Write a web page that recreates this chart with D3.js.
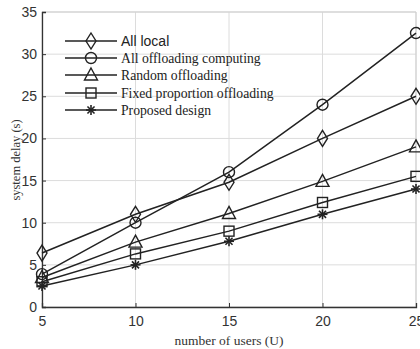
<!DOCTYPE html>
<html><head><meta charset="utf-8">
<script src="https://cdn.jsdelivr.net/npm/d3@7"></script>
<style>body{margin:0;background:#fff}svg{display:block}</style>
</head><body>
<svg id="c" width="420" height="349"></svg>
<script>
const users = [5, 10, 15, 20, 25];
const xTicks = [5, 10, 15, 20, 25];
const yTicks = [0, 5, 10, 15, 20, 25, 30, 35];
const seriesNames = ["All local", "All offloading computing", "Random offloading", "Fixed proportion offloading", "Proposed design"];
const allLocal = [6.4, 11.0, 14.8, 20.0, 25.0];
const allOffloading = [3.9, 10.0, 16.0, 24.0, 32.5];
const randomOffloading = [3.5, 7.7, 11.1, 14.9, 19.0];
const fixedProportion = [3.0, 6.3, 9.0, 12.4, 15.5];
const proposedDesign = [2.5, 5.0, 7.8, 11.0, 14.0];
const seriesValues = [allLocal, allOffloading, randomOffloading, fixedProportion, proposedDesign];
const markers = ["diamond", "circle", "triangle", "square", "star"];

const svg = d3.select("#c");
const L = 42, R = 416, T = 12, B = 307;
const x = d3.scaleLinear().domain([5, 25]).range([L, R]);
const y = d3.scaleLinear().domain([0, 35]).range([B, T]);

// grid
const g = svg.append("g");
g.selectAll(".gx").data(xTicks).enter().append("line")
  .attr("x1", d => x(d)).attr("x2", d => x(d)).attr("y1", T).attr("y2", B)
  .attr("stroke", "#dcdcdc").attr("stroke-width", 1);
g.selectAll(".gy").data(yTicks).enter().append("line")
  .attr("x1", L).attr("x2", R).attr("y1", d => y(d)).attr("y2", d => y(d))
  .attr("stroke", "#dcdcdc").attr("stroke-width", 1);
// box top/right
svg.append("path").attr("d", `M${L},${T}H${R}V${B}`).attr("fill", "none").attr("stroke", "#cfcfcf");

// axes
const xAxis = d3.axisBottom(x).tickValues(xTicks).tickSize(-4).tickPadding(9).tickFormat(d3.format("d"));
const yAxis = d3.axisLeft(y).tickValues(yTicks).tickSize(-4).tickPadding(5).tickFormat(d3.format("d"));
const ax = svg.append("g").attr("transform", `translate(0,${B})`).call(xAxis);
const ay = svg.append("g").attr("transform", `translate(${L},0)`).call(yAxis);
[ax, ay].forEach(a => {
  a.select(".domain").attr("stroke", "#333").attr("stroke-width", 1.3);
  a.selectAll(".tick line").attr("stroke", "#333");
  a.selectAll(".tick text").attr("font-family", "Liberation Sans, Arial, sans-serif").attr("font-size", 14).attr("fill", "#333");
});

// axis labels
svg.append("text").attr("x", 229).attr("y", 345).attr("text-anchor", "middle")
  .attr("font-family", "Liberation Serif, Times New Roman, serif").attr("font-size", 13.5).attr("fill", "#333")
  .text("number of users (U)");
svg.append("text").attr("transform", "translate(20,160) rotate(-90)").attr("text-anchor", "middle")
  .attr("font-family", "Liberation Serif, Times New Roman, serif").attr("font-size", 12.5).attr("fill", "#333")
  .text("system delay (s)");

function drawMarker(sel, type, cx, cy) {
  const s = "#222";
  if (type === "diamond") {
    sel.append("path").attr("d", `M${cx},${cy-8}L${cx+5},${cy}L${cx},${cy+8}L${cx-5},${cy}Z`).attr("fill", "none").attr("stroke", s).attr("stroke-width", 1.4);
  } else if (type === "circle") {
    sel.append("circle").attr("cx", cx).attr("cy", cy).attr("r", 5.5).attr("fill", "none").attr("stroke", s).attr("stroke-width", 1.4);
  } else if (type === "triangle") {
    sel.append("path").attr("d", `M${cx},${cy-7}L${cx+6.5},${cy+5}L${cx-6.5},${cy+5}Z`).attr("fill", "none").attr("stroke", s).attr("stroke-width", 1.4);
  } else if (type === "square") {
    sel.append("rect").attr("x", cx-5).attr("y", cy-5).attr("width", 10).attr("height", 10).attr("fill", "none").attr("stroke", s).attr("stroke-width", 1.4);
  } else if (type === "star") {
    for (let a = 0; a < 4; a++) {
      const ang = a * Math.PI / 4;
      sel.append("line").attr("x1", cx - 5*Math.cos(ang)).attr("y1", cy - 5*Math.sin(ang))
        .attr("x2", cx + 5*Math.cos(ang)).attr("y2", cy + 5*Math.sin(ang)).attr("stroke", s).attr("stroke-width", 1.6);
    }
  }
}

const line = d3.line().x((d, i) => x(users[i])).y(d => y(d));
seriesValues.forEach((vals, k) => {
  const sg = svg.append("g");
  sg.append("path").attr("d", line(vals)).attr("fill", "none").attr("stroke", "#222").attr("stroke-width", 1.5);
  vals.forEach((v, i) => drawMarker(sg, markers[k], x(users[i]), y(v)));
});

// legend
const legY = [41, 58, 75, 93, 110];
seriesNames.forEach((name, k) => {
  const lg = svg.append("g");
  lg.append("line").attr("x1", 65).attr("x2", 117).attr("y1", legY[k]).attr("y2", legY[k]).attr("stroke", "#222").attr("stroke-width", 1.6);
  drawMarker(lg, markers[k], 91, legY[k]);
  lg.append("text").attr("x", 121).attr("y", legY[k] + 5)
    .attr("font-family", k === 0 ? "Liberation Sans, Arial, sans-serif" : "Liberation Serif, Times New Roman, serif")
    .attr("font-size", k === 0 ? 14 : 13.7).attr("fill", "#222").text(name);
});
</script>
</body></html>
